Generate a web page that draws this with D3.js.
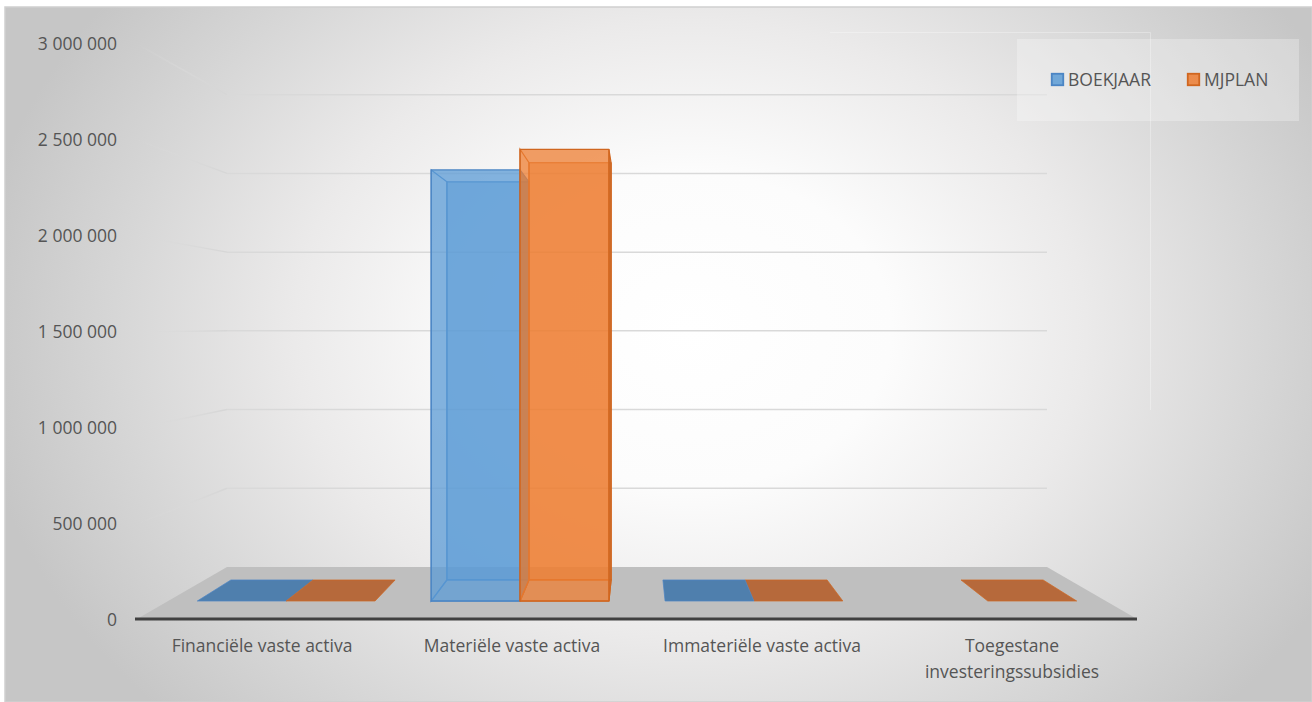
<!DOCTYPE html>
<html>
<head>
<meta charset="utf-8">
<script src="https://cdn.jsdelivr.net/npm/d3@7"></script>
<style>
  html, body { margin: 0; padding: 0; background: #ffffff; }
  svg { display: block; }
  text { font-family: "Open Sans", "Noto Sans", sans-serif; }
</style>
</head>
<body>
<svg id="chart" width="1312" height="702"></svg>
<script>
// ---------------- data ----------------
const categories = [
  "Financiële vaste activa",
  "Materiële vaste activa",
  "Immateriële vaste activa",
  "Toegestane investeringssubsidies"
];
const seriesNames = ["BOEKJAAR", "MJPLAN"];
const boekjaar = [0, 2400000, 0, null];
const mjplan   = [0, 2515000, 0, 0];
const yTicks = [0, 500000, 1000000, 1500000, 2000000, 2500000, 3000000];

// ---------------- styles ----------------
const seriesFill   = ["#5b9bd5", "#ed7d31"];
const seriesStroke = ["#4b85c4", "#d0661f"];
const seriesTop    = ["#4f7fad", "#b6693b"];
const textColor = "#555555";
const fontSize = 17.5;

// ---------------- layout / projection ----------------
const W = 1312, H = 702;
const floorLeft = 137, floorRight = 1137, floorFrontY = 619;
const vx = 637, vy = 325.6;           // vanishing point
const sWall = 0.82;                   // depth scale of back wall
const sBarFront = 0.9355, sBarBack = 0.864;

const svg = d3.select("#chart");
const defs = svg.append("defs");

// background gradient
const bg = defs.append("radialGradient").attr("id", "bg")
  .attr("gradientUnits", "userSpaceOnUse")
  .attr("cx", 690).attr("cy", 330).attr("r", 720)
  .attr("gradientTransform", "translate(690,330) scale(1,0.78) translate(-690,-330)");
[[0, "#ffffff"], [0.28, "#fcfcfc"], [0.55, "#ebeaea"], [0.8, "#d6d6d6"], [1, "#c6c6c6"]]
  .forEach(([o, c]) => bg.append("stop").attr("offset", o).attr("stop-color", c));

const wallGrad = defs.append("linearGradient").attr("id", "wallGrad")
  .attr("gradientUnits", "userSpaceOnUse")
  .attr("x1", 137).attr("y1", 0).attr("x2", 227).attr("y2", 0);
wallGrad.append("stop").attr("offset", 0).attr("stop-color", "#d9d9d9").attr("stop-opacity", 0);
wallGrad.append("stop").attr("offset", 0.5).attr("stop-color", "#d9d9d9").attr("stop-opacity", 0.6);
wallGrad.append("stop").attr("offset", 1).attr("stop-color", "#d6d6d6").attr("stop-opacity", 1);

svg.append("rect").attr("x", 5).attr("y", 7).attr("width", W - 5).attr("height", H - 7)
  .attr("fill", "url(#bg)").attr("stroke", "#cfcfcf").attr("stroke-width", 1.5);

// faint plot-area frame
svg.append("path").attr("d", "M830,32.5H1150.5V410")
  .attr("fill", "none").attr("stroke", "#ffffff").attr("stroke-opacity", 0.3).attr("stroke-width", 1);

// scales
const x = d3.scaleBand().domain(categories).range([floorLeft, floorRight]).paddingInner(0).paddingOuter(0);
const xs = d3.scaleBand().domain(seriesNames).range([30, x.bandwidth() - 30]);
const y = d3.scaleLinear().domain([0, 3000000]).range([floorFrontY + 1, 44]);

const P = (X, Y, s) => [vx + (X - vx) * s, vy + (Y - vy) * s];
const poly = pts => "M" + pts.map(p => p[0].toFixed(2) + "," + p[1].toFixed(2)).join("L") + "Z";

// gridlines: back wall + left wall
const grid = svg.append("g");
yTicks.filter(t => t > 0).forEach(t => {
  const bl = P(floorLeft, y(t), sWall), br = P(floorRight, y(t), sWall);
  const fl = [floorLeft, y(t)];
  grid.append("line").attr("x1", bl[0]).attr("y1", bl[1]).attr("x2", br[0]).attr("y2", br[1])
    .attr("stroke", "#d9d9d9").attr("stroke-width", 1.5);
  grid.append("line").attr("x1", fl[0]).attr("y1", fl[1]).attr("x2", bl[0]).attr("y2", bl[1])
    .attr("stroke", "url(#wallGrad)").attr("stroke-width", 1.5);
});

// floor
const fBL = P(floorLeft, y(0), sWall), fBR = P(floorRight, y(0), sWall);
svg.append("path")
  .attr("d", poly([[floorLeft, floorFrontY], [floorRight, floorFrontY], fBR, fBL]))
  .attr("fill", "#bfbfbf");

// bars
const barsData = [];
categories.forEach((c, i) => {
  [boekjaar, mjplan].forEach((arr, k) => {
    const v = arr[i];
    if (v === null || v === undefined) return;
    const X0 = x(c) + xs(seriesNames[k]);
    const X1 = X0 + xs.bandwidth();
    barsData.push({ c, k, v, X0, X1, mid: (X0 + X1) / 2 });
  });
});
barsData.sort((a, b) => Math.abs(b.mid - vx) - Math.abs(a.mid - vx));

const barsG = svg.append("g");
barsData.forEach(d => {
  const g = barsG.append("g");
  const Yb = y(0), Yt = y(d.v);
  const fill = seriesFill[d.k], stroke = seriesStroke[d.k];
  const s1 = sBarFront, s2 = sBarBack;
  const front = [P(d.X0, Yt, s1), P(d.X1, Yt, s1), P(d.X1, Yb, s1), P(d.X0, Yb, s1)];
  const back  = [P(d.X0, Yt, s2), P(d.X1, Yt, s2), P(d.X1, Yb, s2), P(d.X0, Yb, s2)];
  const left  = [P(d.X0, Yt, s1), P(d.X0, Yt, s2), P(d.X0, Yb, s2), P(d.X0, Yb, s1)];
  const right = [P(d.X1, Yt, s1), P(d.X1, Yt, s2), P(d.X1, Yb, s2), P(d.X1, Yb, s1)];
  const top   = [P(d.X0, Yt, s1), P(d.X1, Yt, s1), P(d.X1, Yt, s2), P(d.X0, Yt, s2)];
  const bottom= [P(d.X0, Yb, s1), P(d.X1, Yb, s1), P(d.X1, Yb, s2), P(d.X0, Yb, s2)];
  const flat = Math.abs(Yt - Yb) < 1;

  if (!flat) {
    g.append("path").attr("d", poly(back)).attr("fill", fill).attr("fill-opacity", 0.5)
      .attr("stroke", stroke).attr("stroke-width", 1.2).attr("stroke-linejoin", "round");
    g.append("path").attr("d", poly(bottom)).attr("fill", "none")
      .attr("stroke", stroke).attr("stroke-width", 1.2);
    const sideVisible = d.X1 < vx ? right : left;
    const sideHidden = d.X1 < vx ? left : right;
    g.append("path").attr("d", poly(sideHidden)).attr("fill", "none")
      .attr("stroke", stroke).attr("stroke-width", 1.2);
    g.append("path").attr("d", poly(sideVisible))
      .attr("fill", d3.color(fill).darker(0.5)).attr("fill-opacity", 0.8)
      .attr("stroke", stroke).attr("stroke-width", 1.2);
    g.append("path").attr("d", poly(front)).attr("fill", fill).attr("fill-opacity", 0.75)
      .attr("stroke", stroke).attr("stroke-width", 1.3).attr("stroke-linejoin", "round");
  } else {
    g.append("path").attr("d", poly(top)).attr("fill", seriesTop[d.k])
      .attr("stroke", stroke).attr("stroke-width", 1).attr("stroke-opacity", 0.7);
  }
});

// front axis line
svg.append("line").attr("x1", floorLeft - 2).attr("x2", floorRight).attr("y1", floorFrontY).attr("y2", floorFrontY)
  .attr("stroke", "#404040").attr("stroke-width", 3);

// value axis
const locale = d3.formatLocale({ decimal: ",", thousands: " ", grouping: [3], currency: ["", ""] });
const fmt = locale.format(",");
const yAxis = d3.axisLeft(y).tickValues(yTicks).tickFormat(fmt).tickSize(0).tickPadding(8);
const yg = svg.append("g").attr("transform", "translate(125,0)").call(yAxis);
yg.select(".domain").remove();
yg.selectAll("text").attr("fill", textColor).style("font-size", fontSize + "px")
  .style("font-family", '"Open Sans", sans-serif');

// category axis
const xAxis = d3.axisBottom(x).tickSize(0).tickPadding(21);
const xg = svg.append("g").attr("transform", `translate(0,${floorFrontY})`).call(xAxis);
xg.select(".domain").remove();
xg.selectAll("text").attr("fill", textColor).style("font-size", fontSize + "px")
  .style("font-family", '"Open Sans", sans-serif')
  .each(function (d) {
    const t = d3.select(this);
    const words = d.split(" ");
    t.text(d);
    if (this.getComputedTextLength() <= x.bandwidth() - 20) return;
    t.text(null);
    let lines = [], line = [];
    const tmp = t.append("tspan");
    words.forEach(w => {
      line.push(w);
      tmp.text(line.join(" "));
      if (tmp.node().getComputedTextLength() > x.bandwidth() - 20 && line.length > 1) {
        line.pop(); lines.push(line.join(" ")); line = [w];
      }
    });
    lines.push(line.join(" "));
    tmp.remove();
    const y0 = +t.attr("y");
    lines.forEach((l, i) => {
      t.append("tspan").attr("x", 0).attr("y", y0 + i * 26).attr("dy", "0.71em").text(l);
    });
  });

// legend
const lg = svg.append("g");
lg.append("rect").attr("x", 1017).attr("y", 39).attr("width", 282).attr("height", 82)
  .attr("fill", "#ffffff").attr("fill-opacity", 0.28);
const legendX = [1051, 1187];
seriesNames.forEach((n, k) => {
  lg.append("rect").attr("x", legendX[k] + 0.75).attr("y", 73.75).attr("width", 11.5).attr("height", 11.5)
    .attr("fill", seriesFill[k]).attr("fill-opacity", 0.85)
    .attr("stroke", seriesStroke[k]).attr("stroke-width", 1.8);
  lg.append("text").attr("x", legendX[k] + 17).attr("y", 80).attr("dy", "0.35em")
    .attr("fill", textColor).style("font-size", fontSize + "px").text(n);
});
</script>
</body>
</html>
